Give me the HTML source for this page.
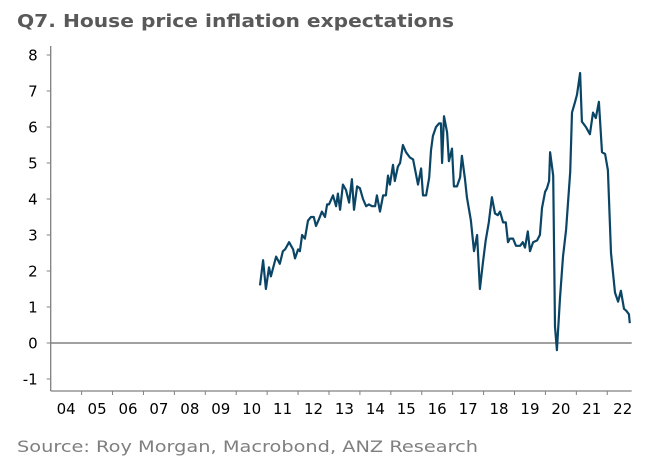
<!DOCTYPE html>
<html><head><meta charset="utf-8"><style>
html,body{margin:0;padding:0;background:#fff;}
svg{display:block;font-family:"DejaVu Sans","Liberation Sans",sans-serif;}
</style></head><body>
<svg id="chart" width="646" height="465" viewBox="0 0 646 465">
<text x="17" y="27" font-size="18" font-weight="bold" fill="#595959" textLength="437" lengthAdjust="spacingAndGlyphs">Q7. House price inflation expectations</text>
<g id="axes"></g>
<path id="line" fill="none" stroke="#0b4566" stroke-width="2.2" stroke-linejoin="round"/>
<text x="17" y="452" font-size="16" fill="#7f7f7f" textLength="461" lengthAdjust="spacingAndGlyphs">Source: Roy Morgan, Macrobond, ANZ Research</text>
</svg>
<script>
const yTicks=[-1,0,1,2,3,4,5,6,7,8];
const xYears=["04","05","06","07","08","09","10","11","12","13","14","15","16","17","18","19","20","21","22"];
const dates=[2010.77,2010.87,2010.96,2011.06,2011.12,2011.29,2011.41,2011.51,2011.58,2011.71,2011.84,2011.90,2012.00,2012.06,2012.13,2012.22,2012.32,2012.42,2012.51,2012.58,2012.68,2012.77,2012.87,2012.94,2013.00,2013.13,2013.23,2013.29,2013.36,2013.45,2013.55,2013.65,2013.74,2013.81,2013.91,2014.00,2014.10,2014.20,2014.29,2014.39,2014.49,2014.55,2014.65,2014.75,2014.84,2014.91,2014.97,2015.07,2015.13,2015.23,2015.30,2015.39,2015.49,2015.62,2015.72,2015.88,2015.98,2016.04,2016.14,2016.24,2016.30,2016.36,2016.46,2016.56,2016.62,2016.66,2016.72,2016.82,2016.88,2016.98,2017.04,2017.14,2017.24,2017.30,2017.40,2017.46,2017.59,2017.69,2017.79,2017.88,2017.98,2018.07,2018.17,2018.27,2018.37,2018.46,2018.53,2018.63,2018.72,2018.79,2018.85,2018.95,2019.05,2019.18,2019.27,2019.34,2019.43,2019.50,2019.60,2019.73,2019.82,2019.89,2019.99,2020.05,2020.12,2020.15,2020.25,2020.31,2020.37,2020.47,2020.57,2020.67,2020.80,2020.86,2020.96,2021.02,2021.12,2021.18,2021.31,2021.44,2021.54,2021.63,2021.73,2021.83,2021.93,2022.02,2022.12,2022.25,2022.35,2022.44,2022.54,2022.61,2022.70,2022.73];
const values=[1.6,2.3,1.5,2.1,1.85,2.4,2.2,2.55,2.6,2.8,2.6,2.35,2.6,2.55,3.0,2.9,3.4,3.5,3.5,3.25,3.45,3.65,3.5,3.85,3.85,4.1,3.8,4.15,3.7,4.4,4.25,3.9,4.55,3.7,4.35,4.3,4.0,3.8,3.85,3.8,3.8,4.1,3.65,4.1,4.1,4.65,4.4,4.95,4.5,4.9,5.0,5.5,5.3,5.15,5.1,4.4,4.85,4.1,4.1,4.6,5.35,5.75,6.0,6.1,6.1,5.0,6.3,5.85,5.05,5.4,4.35,4.35,4.6,5.2,4.55,4.05,3.4,2.55,3.0,1.5,2.25,2.85,3.35,4.05,3.6,3.55,3.65,3.35,3.35,2.8,2.9,2.9,2.7,2.7,2.8,2.65,3.1,2.55,2.8,2.85,3.0,3.75,4.2,4.3,4.5,5.3,4.65,0.45,-0.2,1.25,2.4,3.15,4.75,6.4,6.7,6.9,7.5,6.15,6.0,5.8,6.4,6.25,6.7,5.3,5.25,4.8,2.5,1.4,1.15,1.45,0.95,0.9,0.8,0.55];
const X0=50.7,YW=30.92,Y0=343,UNIT=36,XR=631.7,YB=391,YT=46;
function xs(t){return X0+(t-2004)*YW;}
function ys(v){return Y0-v*UNIT;}
const NS="http://www.w3.org/2000/svg";
const g=document.getElementById('axes');
function mk(tag,attrs){const e=document.createElementNS(NS,tag);for(const k in attrs)e.setAttribute(k,attrs[k]);g.appendChild(e);return e;}
let e;
e=mk('line',{x1:X0,y1:YT,x2:X0,y2:YB,stroke:'#808080','stroke-width':1.3});


e=mk('line',{x1:X0,y1:YB,x2:XR,y2:YB,stroke:'#808080','stroke-width':1.3});


e=mk('line',{x1:X0,y1:ys(0),x2:XR,y2:ys(0),stroke:'#808080','stroke-width':1.5});


yTicks.forEach(v=>{
  const t=mk('line',{x1:X0-4,y1:ys(v),x2:X0,y2:ys(v),stroke:'#808080','stroke-width':1});
  
  
  const l=mk('text',{x:X0-13,y:ys(v)+5.5,'font-size':15,'text-anchor':'end',fill:'#000'});
  l.textContent=String(v);
  
  
});
xYears.forEach((s,i)=>{
  const yr=2004+i;
  if(i>0){
    const t=mk('line',{x1:xs(yr),y1:YB,x2:xs(yr),y2:YB+4,stroke:'#808080','stroke-width':1});
    
    
  }
  const l=mk('text',{x:xs(yr+0.5),y:YB+23,'font-size':15,'text-anchor':'middle',fill:'#000'});
  l.textContent=s;
  
  
});
document.getElementById('line').setAttribute('d',dates.map((d,i)=>(i?'L':'M')+xs(d).toFixed(1)+' '+ys(values[i]).toFixed(1)).join(' '));
</script>
</body></html>
